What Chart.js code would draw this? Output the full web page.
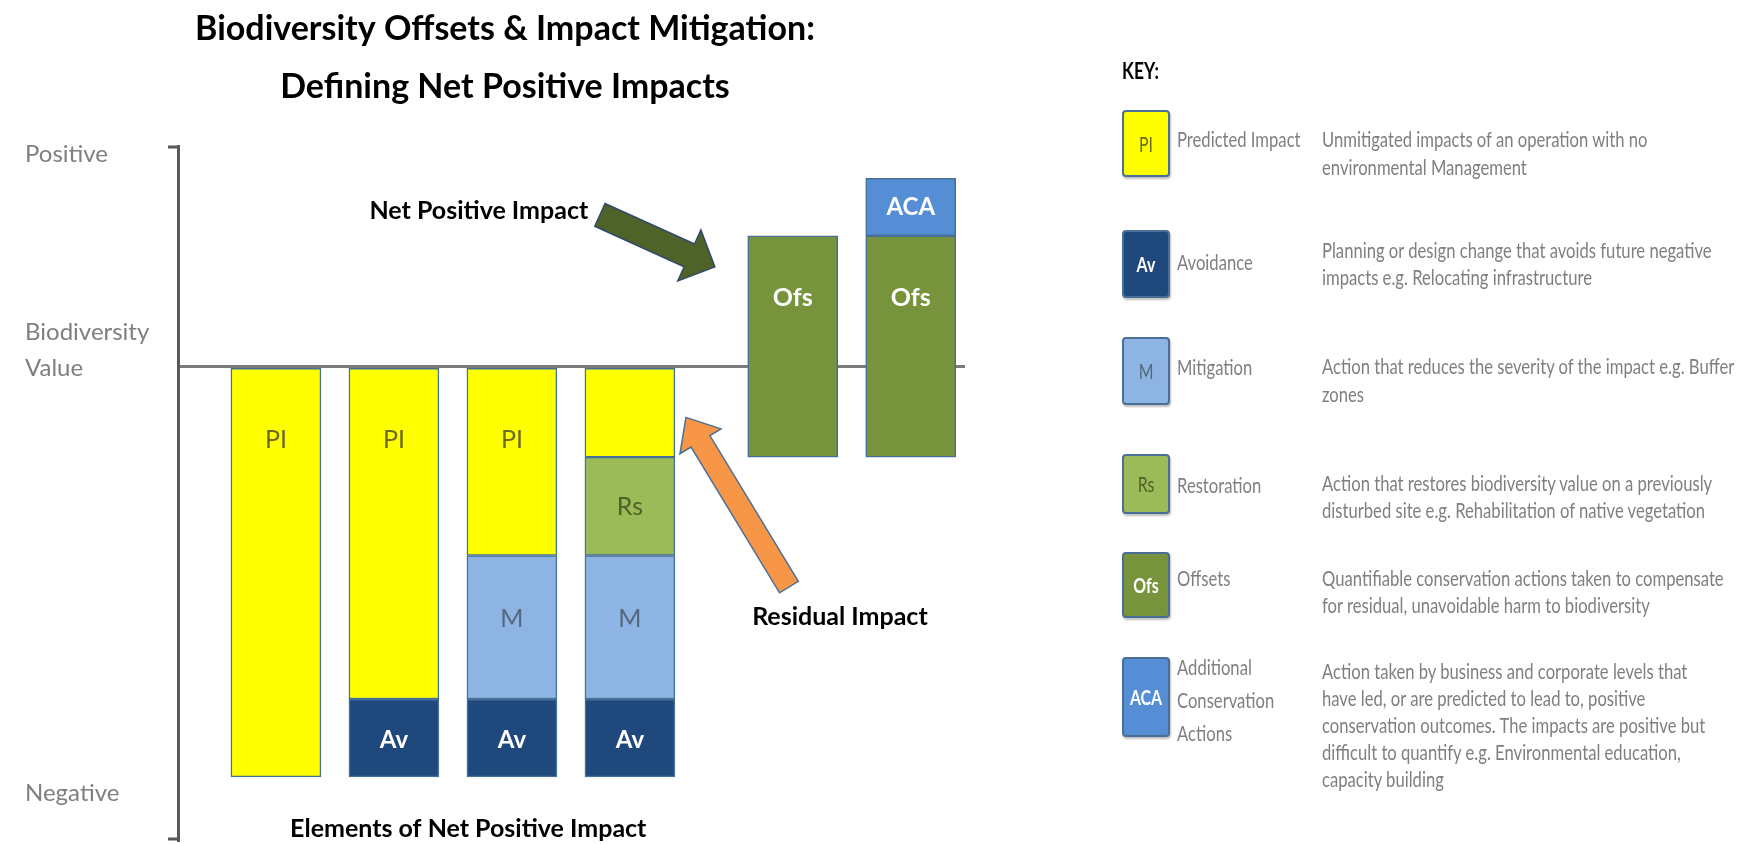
<!DOCTYPE html>
<html>
<head>
<meta charset="utf-8">
<script src="https://cdn.jsdelivr.net/npm/chart.js@4.4.1/dist/chart.umd.min.js"></script>
<style>
html, body { margin: 0; padding: 0; background: #ffffff; }
#wrap { position: relative; width: 1749px; height: 844px; overflow: hidden; background: #ffffff; }
#chartBox { position: absolute; left: 0; top: 0; width: 1749px; height: 844px; }
.kt { position: absolute; white-space: nowrap; font-family: Lato, 'Open Sans', sans-serif; transform-origin: 0 50%; }
.sw { position: absolute; box-sizing: border-box; border: 2px solid #4a6f97; border-radius: 4px;
      box-shadow: 1px 2px 2px rgba(0,0,0,0.25); overflow: hidden; }
.sw span { position: absolute; left: 0; width: 100%; top: 50%; text-align: center; font-family: Lato, sans-serif;
           font-size: 21px; line-height: 24px; margin-top: -12px; }
</style>
</head>
<body>
<div id="wrap">
  <div id="chartBox"><canvas id="c"></canvas></div>
  <div id="key"></div>
</div>
<script>
// ---------------- DATA ----------------
const categories = ['Predicted Impact', 'Avoidance', 'Mitigation', 'Restoration', 'Offsets', 'Additional Conservation Actions'];
const categoryX = [1, 2, 3, 4, 5.38, 6.38];

const piValues  = [-100, -81, -46, -22, null, null];
const rsValues  = [null, null, null, -24, null, null];
const mValues   = [null, null, -35, -35, null, null];
const avValues  = [null, -19, -19, -19, null, null];
const ofsValues = [null, null, null, null, [-22, 32], [-22, 32]];
const acaValues = [null, null, null, null, null, 14];

const piLabels  = ['PI', 'PI', 'PI', '', '', ''];
const rsLabels  = ['', '', '', 'Rs', '', ''];
const mLabels   = ['', '', 'M', 'M', '', ''];
const avLabels  = ['', 'Av', 'Av', 'Av', '', ''];
const ofsLabels = ['', '', '', '', 'Ofs', 'Ofs'];
const acaLabels = ['', '', '', '', '', 'ACA'];

const yTickValues = [52, 4, 0, -104];
const yTickLabels = ['Positive', ['Biodiversity', 'Value'], '', 'Negative'];

const titleLines = ['Biodiversity Offsets & Impact Mitigation:', 'Defining Net Positive Impacts'];

const keyCodes = ['PI', 'Av', 'M', 'Rs', 'Ofs', 'ACA'];
const keyNames = [['Predicted Impact'], ['Avoidance'], ['Mitigation'], ['Restoration'], ['Offsets'],
                  ['Additional', 'Conservation', 'Actions']];
const keyDescriptions = [
  ['Unmitigated impacts of an operation with no', 'environmental Management'],
  ['Planning or design change that avoids future negative', 'impacts e.g. Relocating infrastructure'],
  ['Action that reduces the severity of the impact e.g. Buffer', 'zones'],
  ['Action that restores biodiversity value on a previously', 'disturbed site e.g. Rehabilitation of native vegetation'],
  ['Quantifiable conservation actions taken to compensate', 'for residual, unavoidable harm to biodiversity'],
  ['Action taken by business and corporate levels that', 'have led, or are predicted to lead to, positive',
   'conservation outcomes. The impacts are positive but', 'difficult to quantify e.g. Environmental education,',
   'capacity building']
];

// ---------------- STYLES ----------------
const colors = { PI: '#FFFF00', Av: '#1F487C', M: '#8DB4E2', Rs: '#9BBB59', Ofs: '#77933C', ACA: '#558ED5' };
const codeText = {
  PI:  { color: '#6b6b25', weight: 'normal' },
  Av:  { color: '#ffffff', weight: 'bold' },
  M:   { color: '#56667b', weight: 'normal' },
  Rs:  { color: '#4f6128', weight: 'normal' },
  Ofs: { color: '#ffffff', weight: 'bold' },
  ACA: { color: '#ffffff', weight: 'bold' }
};
const FONT = 'Lato';
const BAR_BORDER = '#45709a';

function ds(label, data, code, segLabels, anchor, offset, size) {
  return {
    label: label, data: data, backgroundColor: colors[code], borderColor: BAR_BORDER, borderWidth: 1.5,
    borderSkipped: false, barThickness: 90,
    segLabels: segLabels, labelAnchor: anchor, labelOffset: offset || 0,
    labelFont: codeText[code].weight + ' ' + size + 'px ' + FONT, labelColor: codeText[code].color
  };
}

const datasets = [
  ds('Predicted Impact', piValues, 'PI', piLabels, 'top', 71, 25),
  ds('Restoration', rsValues, 'Rs', rsLabels, 'center', 1, 25),
  ds('Mitigation', mValues, 'M', mLabels, 'center', -8, 25),
  ds('Avoidance', avValues, 'Av', avLabels, 'center', 2, 24),
  ds('Offsets', ofsValues, 'Ofs', ofsLabels, 'positive', -3, 25),
  ds('Additional Conservation Actions', acaValues, 'ACA', acaLabels, 'center', 0, 24)
];

// annotations placed in data units
const annotationTexts = [
  { text: 'Net Positive Impact', x: 2.72, y: 38.0 },
  { text: 'Residual Impact', x: 5.78, y: -61.0 },
  { text: 'Elements of Net Positive Impact', x: 2.63, y: -112.7 }
];
const annotationArrows = [
  { from: [3.746, 37.1], to: [4.72, 24.4], shaft: 25, headW: 56, headL: 28, fill: '#4F6228', stroke: '#2f4a6e' },
  { from: [5.348, -53.7], to: [4.475, -12.3], shaft: 22, headW: 48, headL: 28, fill: '#F79646', stroke: '#4a6f97' }
];

function blockArrow(ctx, x0, y0, x1, y1, shaft, headW, headL, fill, stroke) {
  const dx = x1 - x0, dy = y1 - y0, L = Math.hypot(dx, dy);
  const ux = dx / L, uy = dy / L, px = -uy, py = ux;
  const bx = x1 - ux * headL, by = y1 - uy * headL;
  const pts = [
    [x0 + px * shaft / 2, y0 + py * shaft / 2],
    [bx + px * shaft / 2, by + py * shaft / 2],
    [bx + px * headW / 2, by + py * headW / 2],
    [x1, y1],
    [bx - px * headW / 2, by - py * headW / 2],
    [bx - px * shaft / 2, by - py * shaft / 2],
    [x0 - px * shaft / 2, y0 - py * shaft / 2]
  ];
  ctx.beginPath();
  pts.forEach((p, i) => i ? ctx.lineTo(p[0], p[1]) : ctx.moveTo(p[0], p[1]));
  ctx.closePath();
  ctx.fillStyle = fill; ctx.fill();
  ctx.lineWidth = 1.5; ctx.strokeStyle = stroke; ctx.stroke();
}

const segLabelPlugin = {
  id: 'segLabels',
  afterDatasetsDraw(chart) {
    const ctx = chart.ctx;
    const zeroY = chart.scales.y.getPixelForValue(0);
    chart.data.datasets.forEach((d, di) => {
      const meta = chart.getDatasetMeta(di);
      meta.data.forEach((el, i) => {
        const txt = d.segLabels && d.segLabels[i];
        if (!txt) return;
        const top = Math.min(el.y, el.base), bot = Math.max(el.y, el.base);
        let cy;
        if (d.labelAnchor === 'top') cy = top + d.labelOffset;
        else if (d.labelAnchor === 'positive') cy = (top + zeroY) / 2 + d.labelOffset;
        else cy = (top + bot) / 2 + d.labelOffset;
        ctx.save();
        ctx.font = d.labelFont; ctx.fillStyle = d.labelColor;
        ctx.textAlign = 'center'; ctx.textBaseline = 'middle';
        ctx.fillText(txt, el.x, cy);
        ctx.restore();
      });
    });
  }
};

const annotationPlugin = {
  id: 'annotations',
  afterDatasetsDraw(chart) {
    const ctx = chart.ctx, xs = chart.scales.x, ys = chart.scales.y;
    ctx.save();
    annotationArrows.forEach(a => {
      blockArrow(ctx, xs.getPixelForValue(a.from[0]), ys.getPixelForValue(a.from[1]),
                 xs.getPixelForValue(a.to[0]), ys.getPixelForValue(a.to[1]),
                 a.shaft, a.headW, a.headL, a.fill, a.stroke);
    });
    ctx.font = 'bold 25px ' + FONT; ctx.fillStyle = '#000000';
    ctx.textAlign = 'center'; ctx.textBaseline = 'middle';
    annotationTexts.forEach(t => ctx.fillText(t.text, xs.getPixelForValue(t.x), ys.getPixelForValue(t.y)));
    ctx.restore();
  },
  afterDraw(chart) {
    // bracket hooks at both ends of the value axis
    const ctx = chart.ctx, a = chart.chartArea;
    ctx.save();
    ctx.strokeStyle = '#595959'; ctx.lineWidth = 3; ctx.lineCap = 'butt';
    ctx.beginPath();
    ctx.moveTo(a.left - 10, a.top + 1); ctx.lineTo(a.left - 1, a.top + 1);
    ctx.moveTo(a.left - 10, a.bottom - 1); ctx.lineTo(a.left - 1, a.bottom - 1);
    ctx.stroke();
    ctx.restore();
  }
};

new Chart(document.getElementById('c'), {
  type: 'bar',
  data: { labels: categoryX, datasets: datasets },
  options: {
    responsive: true, maintainAspectRatio: false, animation: false, events: [],
    layout: { padding: { left: 45, right: 784, top: 0, bottom: 4 } },
    plugins: {
      legend: { display: false },
      tooltip: { enabled: false },
      title: {
        display: true, text: titleLines, color: '#000000',
        font: { family: FONT, size: 34, weight: 'bold', lineHeight: 58 / 34 },
        padding: { top: 0, bottom: 30 }
      }
    },
    scales: {
      x: { type: 'linear', min: 0.17, max: 6.84, offset: false, stacked: true, display: false },
      y: {
        stacked: true, min: -115.4, max: 53.9, z: 1, position: 'left',
        afterBuildTicks: s => { s.ticks = yTickValues.map(v => ({ value: v })); },
        afterFit: s => { s.width = 133; s.paddingTop = 0; s.paddingBottom = 0; },
        ticks: {
          autoSkip: false, mirror: true, padding: -153, crossAlign: 'near', color: '#7f7f7f',
          font: { family: FONT, size: 24, lineHeight: 1.5 },
          callback: (v, i) => yTickLabels[i]
        },
        grid: {
          drawTicks: false,
          color: c => (c.tick && c.tick.value === 0) ? '#7a7a7a' : 'rgba(0,0,0,0)',
          lineWidth: 3
        },
        border: { display: true, color: '#595959', width: 3 }
      }
    }
  },
  plugins: [segLabelPlugin, annotationPlugin]
});

// ---------------- KEY PANEL ----------------
const keyLayout = [
  { sw: [110, 67], name: [139], desc: [139, 167] },
  { sw: [230, 68], name: [262], desc: [250, 277] },
  { sw: [337, 68], name: [367], desc: [366, 394] },
  { sw: [454, 60], name: [485], desc: [483, 510] },
  { sw: [552, 66], name: [578], desc: [578, 605] },
  { sw: [657, 80], name: [667, 700, 733], desc: [671, 698, 725, 752, 779] }
];
const KEY_FONT_SIZE = 22;
const measure = document.createElement('canvas').getContext('2d');
measure.font = KEY_FONT_SIZE + 'px ' + FONT;
const sx = 413 / measure.measureText(keyDescriptions[2][0]).width;

const key = document.getElementById('key');
function addLine(text, left, cy, opts) {
  const d = document.createElement('div');
  d.className = 'kt';
  d.textContent = text;
  d.style.left = left + 'px';
  d.style.top = (cy - 14) + 'px';
  d.style.height = '28px';
  d.style.lineHeight = '28px';
  d.style.fontSize = (opts.size || KEY_FONT_SIZE) + 'px';
  d.style.fontWeight = opts.weight || 'normal';
  d.style.color = opts.color || '#7f7f7f';
  d.style.transform = 'scaleX(' + sx + ')';
  key.appendChild(d);
}
addLine('KEY:', 1122, 70, { weight: 'bold', color: '#000000', size: 23 });
keyCodes.forEach((code, i) => {
  const L = keyLayout[i];
  const s = document.createElement('div');
  s.className = 'sw';
  s.style.left = '1122px'; s.style.top = L.sw[0] + 'px';
  s.style.width = '48px'; s.style.height = L.sw[1] + 'px';
  s.style.background = colors[code];
  const sp = document.createElement('span');
  sp.textContent = code;
  sp.style.color = codeText[code].color;
  sp.style.fontWeight = codeText[code].weight;
  sp.style.transform = 'scaleX(' + sx + ')';
  s.appendChild(sp);
  key.appendChild(s);
  keyNames[i].forEach((t, j) => addLine(t, 1177, L.name[j], {}));
  keyDescriptions[i].forEach((t, j) => addLine(t, 1322, L.desc[j], {}));
});
</script>
</body>
</html>
